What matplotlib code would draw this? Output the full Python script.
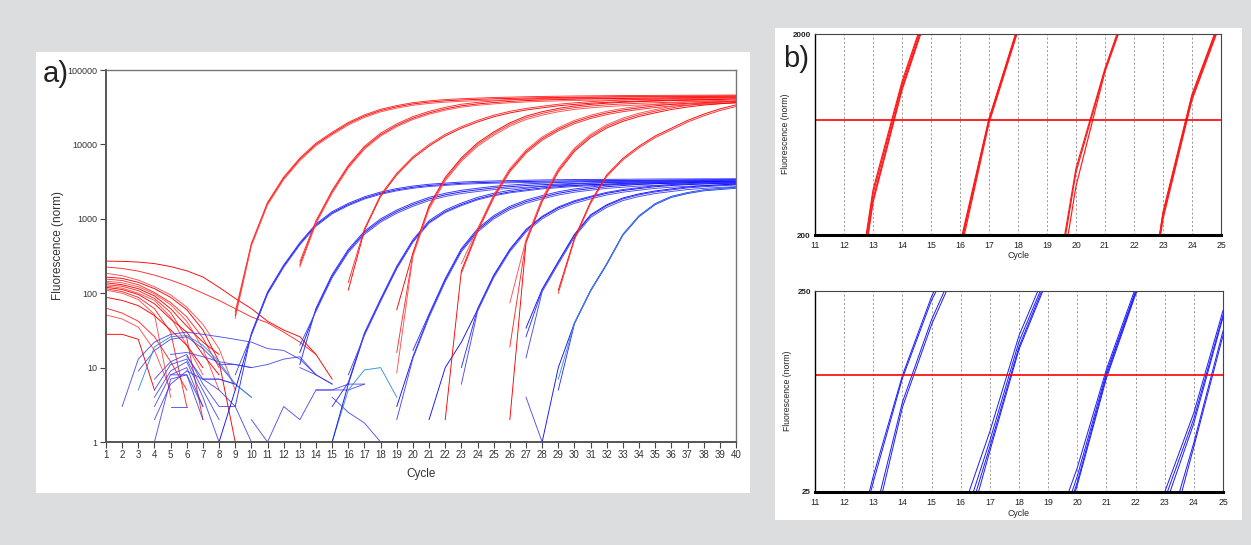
import matplotlib
matplotlib.use("Agg")
import matplotlib.pyplot as plt
from matplotlib.patches import Rectangle
from matplotlib.ticker import FixedLocator, NullLocator

plt.rcParams['font.family'] = ['Liberation Sans', 'DejaVu Sans']

W, H = 1251, 545

# ====================== DATA : panel a ======================
x_ticks_a = list(range(1, 41))
y_ticks_a = [1, 10, 100, 1000, 10000, 100000]
y_tick_labels_a = ['1', '10', '100', '1000', '10000', '100000']

# red amplification groups (value per cycle from the group's first cycle up to 40)
red_A_start = 9
red_A = [50, 450, 1600, 3500, 6300, 10000, 14000, 19000, 24000, 28500, 32000, 35000,
         37000, 38500, 39500, 40300, 41000, 41500, 42000, 42400, 42700, 43000, 43200,
         43400, 43600, 43700, 43800, 43900, 44000, 44100, 44200, 44300]
red_A_reps = [(9, 50, 1.00), (9, 56, 1.04), (9, 46, 0.96)]

red_B_start = 13
red_B = [240, 900, 2300, 5000, 9000, 13500, 18000, 22500, 26500, 30000, 33000, 35000,
         36500, 37800, 38800, 39500, 40000, 40500, 40900, 41200, 41500, 41800, 42000,
         42200, 42400, 42600, 42800, 43000]
red_B_reps = [(13, 240, 1.00), (13, 265, 1.05), (13, 225, 0.96)]

red_C_start = 16
red_C = [120, 700, 2000, 3900, 6500, 9500, 13000, 16500, 20000, 23500, 26500, 29000,
         31000, 33000, 34500, 35800, 36800, 37600, 38300, 38800, 39300, 39700, 40000,
         40400, 40700]
red_C_reps = [(16, 110, 1.00), (16, 140, 1.05)]

red_D_start = 19
red_D = [60, 350, 1500, 3600, 6600, 10500, 14700, 19500, 24000, 27500, 30500, 32800,
         34500, 35800, 36800, 37600, 38200, 38800, 39200, 39600, 40000, 40300]
red_D_reps = [(19, 60, 1.00), (19, 16, 0.95), (19, 8.5, 0.90)]

red_E_start = 22
red_E = [2, 200, 700, 2000, 4500, 8000, 12000, 16000, 20000, 23500, 26500, 29000,
         31000, 33000, 34500, 35500, 36500, 37200, 38000]
red_E_reps = [(22, 2, 1.00), (23, 185, 0.95), (23, 250, 1.05)]

red_F_start = 26
red_F = [19, 500, 1800, 4500, 8500, 13000, 17500, 21500, 25000, 28000, 31000, 33500,
         35500, 37000, 38500]
red_F_reps = [(26, 2, 0.95), (26, 19, 1.00), (26, 74, 1.05)]

red_G_start = 29
red_G = [110, 550, 1700, 3900, 6500, 9500, 13000, 16500, 21000, 25500, 30000, 34000]
red_G_reps = [(29, 110, 1.00), (29, 100, 0.95)]

# blue amplification groups
blue_1_start = 8
blue_1 = [1, 5, 28, 100, 230, 460, 820, 1200, 1550, 1900, 2200, 2450, 2650, 2800, 2900,
          3000, 3060, 3100, 3140, 3170, 3200, 3220, 3240, 3250, 3260, 3270, 3280, 3290,
          3300, 3300, 3310, 3310, 3320]
blue_1_reps = [(8, 1, 1.00), (9, 3, 1.04), (9, 8, 0.97)]

blue_2_start = 13
blue_2 = [15, 60, 170, 370, 650, 950, 1250, 1550, 1850, 2100, 2300, 2450, 2600, 2700,
          2800, 2870, 2930, 2980, 3020, 3060, 3090, 3110, 3130, 3150, 3170, 3180, 3190, 3200]
blue_2_reps = [(13, 16, 1.00), (13, 11, 1.05), (13, 20, 0.95)]

blue_3_start = 15
blue_3 = [1, 6, 28, 80, 220, 500, 900, 1250, 1550, 1850, 2100, 2300, 2450, 2600, 2700,
          2800, 2870, 2930, 2980, 3030, 3070, 3100, 3130, 3150, 3170, 3190]
blue_3_reps = [(15, 1, 1.00), (15, 3, 1.05), (16, 8, 0.97)]

blue_4_start = 19
blue_4 = [3, 14, 50, 150, 380, 700, 1050, 1400, 1700, 1950, 2200, 2400, 2550, 2700,
          2800, 2900, 2960, 3020, 3060, 3100, 3130, 3150]
blue_4_reps = [(19, 3, 1.00), (20, 17, 1.05), (19, 2, 0.95)]

blue_5_start = 21
blue_5 = [2, 10, 22, 60, 170, 380, 700, 1050, 1400, 1700, 1950, 2200, 2400, 2550, 2700,
          2800, 2880, 2950, 3000, 3050]
blue_5_reps = [(21, 2, 1.00), (23, 10, 1.03), (23, 6, 0.95)]

blue_6_start = 27
blue_6 = [30, 110, 260, 600, 1100, 1500, 1850, 2100, 2300, 2450, 2600, 2700, 2780, 2850]
blue_6_reps = [(27, 34, 1.03), (27, 26, 1.00), (27, 13.5, 0.95)]

blue_7_start = 28
blue_7 = [1, 10, 40, 110, 250, 620, 1100, 1600, 2000, 2250, 2450, 2550, 2650]
blue_7_reps = [(28, 1, 1.00), (29, 5, 0.97), (29, 7, 0.99)]

# red background decay curves (cycles start at 1)
red_decay = [
    [270, 268, 262, 250, 228, 200, 165, 120, 85, 62, 42, 32, 26, 15, 7],
    [225, 215, 198, 175, 150, 125, 100, 80, 62, 48, 40, 30, 22, 15],
    [185, 172, 150, 122, 95, 65, 38, 18, 5],
    [165, 158, 140, 115, 88, 60, 32, 12, 1],
    [155, 148, 130, 102, 75, 48, 25, 10],
    [145, 138, 122, 98, 70, 42, 18, 5],
    [138, 130, 115, 92, 62, 36, 22, 15],
    [130, 124, 108, 85, 55, 25, 2],
    [125, 117, 100, 80, 48, 20, 8],
    [120, 112, 96, 72, 45, 30, 15, 8],
    [115, 105, 88, 62, 30, 3],
    [110, 100, 82, 52, 4],
    [88, 80, 68, 50, 32, 20, 10],
    [63, 54, 42, 26, 12, 5],
    [51, 45, 35, 17, 5],
    [28, 28, 24, 5],
]

# blue background noise curves: (first cycle, values)
blue_noise = [
    (2, [3, 13, 22, 28, 30, 28, 26, 24, 22, 18, 17, 13, 8, 6]),
    (3, [9, 17, 24, 26, 18, 11, 6]),
    (4, [7, 12, 15, 6, 3, 3]),
    (4, [5, 11, 13, 5, 2]),
    (4, [4, 9, 12, 4, 1]),
    (4, [3, 8, 10, 3]),
    (4, [2, 6, 9]),
    (4, [1, 7, 8, 2]),
    (5, [3, 3]),
    (5, [8, 8, 3]),
    (5, [15, 16, 14, 12, 11, 10]),
    (6, [14, 7, 7, 6, 4]),
    (7, [7, 7, 6]),
    (8, [11, 11, 10, 11, 13, 14, 8]),
    (6, [9, 7, 5, 3, 1]),
    (10, [2, 1, 3, 2, 5, 5, 6, 6]),
    (10, [1, 1, 1]),
    (14, [5, 5, 5, 6]),
    (13, [10, 8, 6]),
    (15, [4, 2.5, 1.8, 1]),
    (27, [4, 1]),
]
blue_noise_light = [
    (3, [5, 19, 26, 27, 20, 12, 6, 4]),
    (15, [1, 5, 9.3, 10, 4]),
]

# ====================== DATA : panel b ======================
x_ticks_b = list(range(11, 26))
grid_b = list(range(12, 25))
thr_top = 750
thr_bottom = 95

rb_cycles = [[12, 13, 14, 15], [15, 16, 17, 18], [18, 19, 20, 21, 22], [22, 23, 24, 25]]
rb_values = [
    [[35, 320, 1120, 3000], [32, 300, 1080, 2900], [30, 290, 1050, 2850], [38, 335, 1160, 3100]],
    [[25, 180, 760, 2150], [22, 170, 740, 2100], [20, 160, 720, 2080], [24, 175, 750, 2200]],
    [[5, 60, 430, 1350, 3500], [5, 55, 410, 1320, 3400], [4, 45, 350, 1300, 3300]],
    [[30, 260, 1000, 2400], [28, 250, 960, 2350], [26, 240, 940, 2300], [29, 255, 990, 2450]],
]

bb_cycles = [[12, 13, 14, 15, 16], [15, 16, 17, 18, 19], [18, 19, 20, 21, 22, 23], [22, 23, 24, 25, 26]]
bb_values = [
    [[8, 30, 95, 235, 450], [8, 28, 92, 225, 430], [5, 18, 70, 180, 380], [5, 16, 66, 170, 360]],
    [[6, 19, 50, 150, 330], [5, 16, 45, 140, 310], [5, 14, 42, 132, 300], [4, 12, 40, 128, 290]],
    [[4, 13, 33, 102, 260, 500], [3.5, 11, 30, 98, 250, 480], [3, 10, 28, 95, 245, 470], [3, 9, 27, 92, 240, 460]],
    [[8, 25, 62, 200, 400], [7, 23, 58, 190, 380], [7, 21, 55, 185, 370], [5, 14, 44, 158, 330], [4, 12, 42, 150, 320]],
]

# ====================== FIGURE ======================
fig = plt.figure(figsize=(W / 100, H / 100), dpi=100)
fig.patch.set_facecolor('#dcdddf')


def fx(px):
    return px / W


def fy(py):
    return 1 - py / H


# white panels (drawn beneath the axes)
fig.patches.append(Rectangle((fx(36), fy(493)), (750 - 36) / W, (493 - 52) / H,
                             transform=fig.transFigure, facecolor='white',
                             edgecolor='none', zorder=-10))
fig.patches.append(Rectangle((fx(775), fy(520)), (1242 - 775) / W, (520 - 28) / H,
                             transform=fig.transFigure, facecolor='white',
                             edgecolor='none', zorder=-10))

# ---------------- panel a ----------------
ax = fig.add_axes([fx(106), fy(442), 630 / W, 372 / H])
ax.set_facecolor('white')
ax.set_yscale('log')

red_cols = ['#ff0000', '#ff2a2a', '#ff5050']
blue_cols = ['#1010ff', '#3030ff', '#4a4af2']
LW = 0.65

for i, vals in enumerate(red_decay):
    ax.plot(list(range(1, 1 + len(vals))), vals, color=red_cols[i % 3], lw=LW)

for start, vals in blue_noise:
    ax.plot(list(range(start, start + len(vals))), vals, color='#3535f0', lw=LW, alpha=0.85)
for start, vals in blue_noise_light:
    ax.plot(list(range(start, start + len(vals))), vals, color='#3a8fdc', lw=LW)


def draw_group(base_start, base, reps, cols, light=None):
    for k, (c0, v0, s) in enumerate(reps):
        xs = [c0]
        ys = [v0]
        for c in range(c0 + 1, base_start + len(base)):
            xs.append(c)
            ys.append(base[c - base_start] * s)
        col = cols[k % len(cols)]
        if light is not None and k == len(reps) - 1:
            col = light
        ax.plot(xs, ys, color=col, lw=LW)


draw_group(blue_1_start, blue_1, blue_1_reps, blue_cols)
draw_group(blue_2_start, blue_2, blue_2_reps, blue_cols)
draw_group(blue_3_start, blue_3, blue_3_reps, blue_cols)
draw_group(blue_4_start, blue_4, blue_4_reps, blue_cols)
draw_group(blue_5_start, blue_5, blue_5_reps, blue_cols)
draw_group(blue_6_start, blue_6, blue_6_reps, blue_cols)
draw_group(blue_7_start, blue_7, blue_7_reps, blue_cols, light='#3a8fdc')

draw_group(red_A_start, red_A, red_A_reps, red_cols)
draw_group(red_B_start, red_B, red_B_reps, red_cols)
draw_group(red_C_start, red_C, red_C_reps, red_cols)
draw_group(red_D_start, red_D, red_D_reps, red_cols)
draw_group(red_E_start, red_E, red_E_reps, red_cols)
draw_group(red_F_start, red_F, red_F_reps, red_cols)
draw_group(red_G_start, red_G, red_G_reps, red_cols)

ax.set_xlim(1, 40)
ax.set_ylim(1, 100000)
ax.xaxis.set_major_locator(FixedLocator(x_ticks_a))
ax.set_xticklabels([str(t) for t in x_ticks_a])
ax.yaxis.set_major_locator(FixedLocator(y_ticks_a))
ax.yaxis.set_minor_locator(NullLocator())
ax.set_yticklabels(y_tick_labels_a)
ax.tick_params(axis='x', direction='out', length=4, width=0.8, color='#444',
               labelsize=7, labelcolor='#333', pad=2)
ax.tick_params(axis='y', direction='out', length=4, width=0.8, color='#444',
               labelsize=6.5, labelcolor='#333', pad=2)
for side in ['left', 'bottom']:
    ax.spines[side].set_color('#555555')
    ax.spines[side].set_linewidth(1.4)
for side in ['top', 'right']:
    ax.spines[side].set_color('#777777')
    ax.spines[side].set_linewidth(1.0)

fig.text(fx(58), fy(246), 'Fluorescence (norm)', rotation=90, ha='center', va='center',
         fontsize=8.5, color='#333')
fig.text(fx(421), fy(474), 'Cycle', ha='center', va='center', fontsize=8.5, color='#333')
fig.text(fx(43), fy(82), 'a)', ha='left', va='baseline', fontsize=21, color='#222')

# ---------------- panel b ----------------
def style_b(axb, ylo, yhi):
    axb.set_yscale('log')
    axb.set_xlim(11, 25)
    axb.set_ylim(ylo, yhi)
    axb.xaxis.set_major_locator(FixedLocator(x_ticks_b))
    axb.set_xticklabels([str(t) for t in x_ticks_b])
    axb.yaxis.set_major_locator(FixedLocator([ylo, yhi]))
    axb.yaxis.set_minor_locator(NullLocator())
    axb.set_yticklabels([str(ylo), str(yhi)])
    axb.tick_params(axis='x', direction='out', length=0, labelsize=6.3,
                    labelcolor='#222', pad=4)
    axb.tick_params(axis='y', direction='out', length=0, labelsize=5.8,
                    labelcolor='#222', pad=3)
    for lbl in axb.get_yticklabels():
        lbl.set_fontweight('bold')
    for g in grid_b:
        axb.axvline(g, color='#8a8a8a', lw=0.6, ls=(0, (2.5, 2.5)), zorder=0)
    axb.spines['bottom'].set_linewidth(2.2)
    axb.spines['bottom'].set_color('black')
    axb.spines['left'].set_linewidth(1.0)
    axb.spines['left'].set_color('black')
    for side in ['top', 'right']:
        axb.spines[side].set_linewidth(0.8)
        axb.spines[side].set_color('#444')


axt = fig.add_axes([fx(815), fy(235), 406 / W, 201 / H])
style_b(axt, 200, 2000)
for cyc, group in zip(rb_cycles, rb_values):
    for vals in group:
        axt.plot(cyc, vals, color='#ff1a1a', lw=0.85)
axt.axhline(thr_top, color='#ff0000', lw=1.2)

axbtm = fig.add_axes([fx(815), fy(492), 408 / W, 201 / H])
style_b(axbtm, 25, 250)
for cyc, group in zip(bb_cycles, bb_values):
    for vals in group:
        axbtm.plot(cyc, vals, color='#1a1aff', lw=0.7)
axbtm.axhline(thr_bottom, color='#ff0000', lw=1.2)

fig.text(fx(1019), fy(256), 'Cycle', ha='center', va='center', fontsize=6.3, color='#222')
fig.text(fx(1018), fy(513), 'Cycle', ha='center', va='center', fontsize=6.3, color='#222')
fig.text(fx(785), fy(134), 'Fluorescence (norm)', rotation=90, ha='center', va='center',
         fontsize=6.2, color='#222')
fig.text(fx(788), fy(391), 'Fluorescence (norm)', rotation=90, ha='center', va='center',
         fontsize=6.2, color='#222')
fig.text(fx(783), fy(67), 'b)', ha='left', va='baseline', fontsize=21, color='#222')

fig.savefig('out.png', dpi=100, facecolor=fig.get_facecolor())
